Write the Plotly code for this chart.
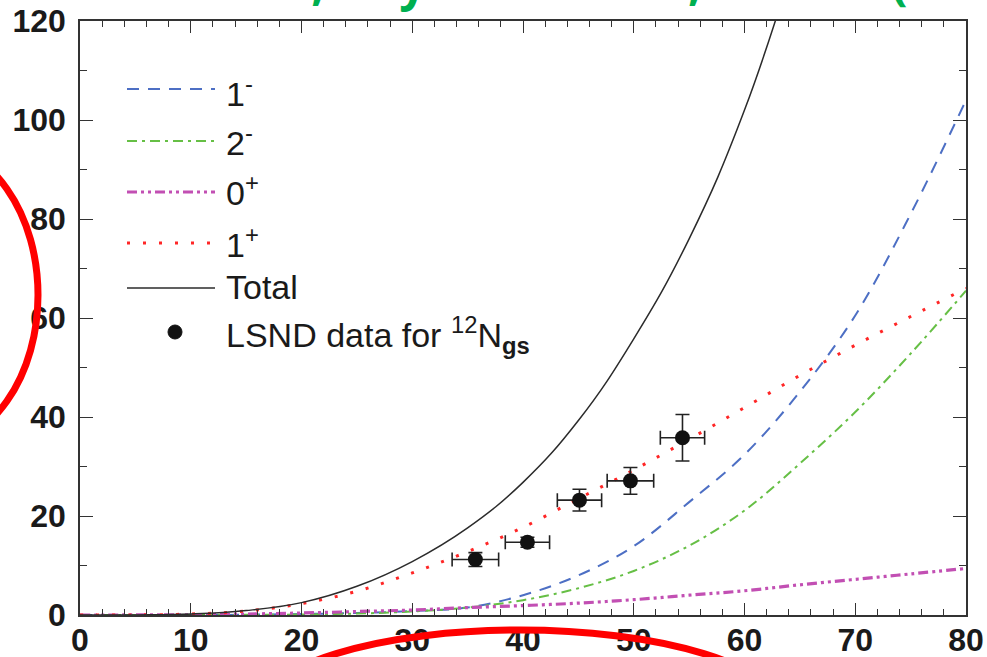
import plotly.graph_objects as go

# ---------------- data ----------------
energy = [0, 5, 10, 15, 20, 25, 30, 35, 40, 45, 50, 55, 60, 65, 70, 75, 80]
one_minus = [0, 0, 0.0, 0.05, 0.2, 0.4, 0.8, 1.5, 4.0, 8.0, 13.9, 22.8, 32.4, 45.1, 60.5, 81.0, 104.0]
two_minus = [0, 0, 0.0, 0.03, 0.1, 0.3, 0.7, 1.5, 3.0, 5.4, 8.9, 14.0, 21.1, 30.6, 41.0, 52.8, 65.5]
zero_plus = [0, 0.01, 0.05, 0.2, 0.4, 0.7, 1.0, 1.5, 1.9, 2.4, 3.1, 4.0, 4.9, 6.1, 7.2, 8.3, 9.4]
one_plus = [0, 0.02, 0.2, 0.8, 2.3, 4.8, 8.5, 12.8, 17.7, 23.5, 29.3, 35.5, 41.9, 48.4, 54.5, 60.3, 66.0]
total_e = [0, 5, 10, 15, 20, 25, 30, 35, 40, 45, 50, 55, 60, 65]
total = [0, 0.02, 0.2, 0.9, 2.5, 5.8, 10.8, 17.6, 26.8, 39.3, 55.8, 76.0, 102.0, 136.0]

lsnd_e = [35.7, 40.4, 45.1, 49.7, 54.4]
lsnd_y = [11.2, 14.7, 23.2, 27.1, 35.8]
lsnd_ex = [2.1, 2.0, 2.0, 2.1, 2.0]
lsnd_ey = [1.4, 1.0, 2.2, 2.7, 4.7]

legend_labels = ["1<sup>-</sup>", "2<sup>-</sup>", "0<sup>+</sup>", "1<sup>+</sup>", "Total",
                 "LSND data for <sup>12</sup>N<sub><b>gs</b></sub>"]
title_text = "Cheoun, Phys. Rev. C 81, 028501 (2010)"

# ---------------- styles ----------------
styles = [
    dict(color="#4d6fc4", dash="12px,9px", width=2),
    dict(color="#66bf45", dash="10px,5px,3px,5px", width=2),
    dict(color="#c24fb3", dash="10px,4px,3px,4px,3px,4px", width=3.2),
    dict(color="#ff2626", dash="3px,13px", width=3),
    dict(color="#2b2b2b", dash="solid", width=1.5),
]

fig = go.Figure()
series = [one_minus, two_minus, zero_plus, one_plus]
for vals, st, name in zip(series, styles[:4], legend_labels[:4]):
    fig.add_trace(go.Scatter(x=energy, y=vals, mode="lines", name=name,
                             line=dict(color=st["color"], dash=st["dash"], width=st["width"],
                                       shape="spline", smoothing=1.0),
                             showlegend=False))
fig.add_trace(go.Scatter(x=total_e, y=total, mode="lines", name="Total",
                         line=dict(color=styles[4]["color"], width=styles[4]["width"],
                                   shape="spline", smoothing=1.2),
                         showlegend=False))
fig.add_trace(go.Scatter(x=lsnd_e, y=lsnd_y, mode="markers", name="LSND data",
                         marker=dict(color="#111111", size=15),
                         error_x=dict(type="data", array=lsnd_ex, color="#222222", thickness=1.6, width=7),
                         error_y=dict(type="data", array=lsnd_ey, color="#222222", thickness=1.6, width=7),
                         showlegend=False))

# plot area: pixels x 80..966, y 21..615
L, R, T, B = 80, 966, 21, 615
def px(xp):
    return (xp - L) / (R - L)
def py(yp):
    return (B - yp) / (B - T)

shapes = []
annotations = []

# manual legend
line_rows = [89, 141, 192, 243, 288]
text_rows = [92, 140, 190, 242, 287, 335]
for yrow, st in zip(line_rows, styles):
    shapes.append(dict(type="line", xref="paper", yref="paper",
                       x0=px(127), x1=px(215), y0=py(yrow), y1=py(yrow),
                       line=dict(color=st["color"], dash=st["dash"], width=st["width"])))
shapes.append(dict(type="circle", xref="paper", yref="paper",
                   x0=px(168), x1=px(182), y0=py(339), y1=py(325),
                   fillcolor="#111111", line=dict(color="#111111", width=1)))
for yrow, lab in zip(text_rows, legend_labels):
    annotations.append(dict(text=lab, xref="paper", yref="paper", x=px(224), y=py(yrow),
                            xanchor="left", yanchor="middle", showarrow=False,
                            font=dict(family="Liberation Sans, Arial", size=34, color="#1a1a1a")))

# green reference title (cut off at top)
annotations.append(dict(text="<b>" + title_text + "</b>", xref="paper", yref="paper",
                        x=px(126), y=py(-18), xanchor="left", yanchor="middle", showarrow=False,
                        font=dict(family="Open Sans, Liberation Sans", size=48, color="#00b050")))

# red hand-drawn highlight ellipses
shapes.append(dict(type="circle", xref="paper", yref="paper", layer="above",
                   x0=px(-174), x1=px(38), y0=py(445), y1=py(145),
                   line=dict(color="#ff0000", width=7)))
shapes.append(dict(type="circle", xref="paper", yref="paper", layer="above",
                   x0=px(260), x1=px(780), y0=py(791), y1=py(630),
                   line=dict(color="#ff0000", width=7)))

tickfont = dict(family="Liberation Sans, Arial", size=32, color="#1a1a1a", weight="bold")
axis_common = dict(showline=True, linecolor="#333333", linewidth=1.6, mirror="ticks",
                   ticks="inside", tickcolor="#333333", tickwidth=1.4, showgrid=False,
                   zeroline=False, tickfont=tickfont, automargin=False)

fig.update_layout(
    width=987, height=657,
    margin=dict(l=L, r=987 - R, t=T, b=657 - B),
    paper_bgcolor="white", plot_bgcolor="white",
    template="none",
    showlegend=False,
    xaxis=dict(range=[0, 80], tick0=0, dtick=10, ticklen=12,
               minor=dict(dtick=2, ticklen=6, ticks="inside", tickcolor="#333333", tickwidth=1.2),
               ticklabelstandoff=-4, **axis_common),
    yaxis=dict(range=[0, 120], tick0=0, dtick=20, ticklen=13,
               minor=dict(dtick=10, ticklen=7, ticks="inside", tickcolor="#333333", tickwidth=1.2),
               ticklabelstandoff=6, **axis_common),
    shapes=shapes,
    annotations=annotations,
)

fig.write_html("out.html", config={"displayModeBar": False},
               post_script="document.body.style.margin='0';document.body.style.overflow='hidden';")
